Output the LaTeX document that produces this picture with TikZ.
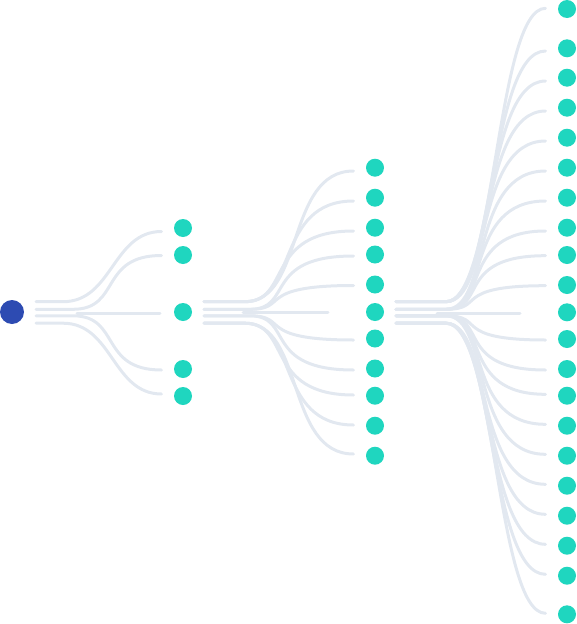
\documentclass[tikz,border=0pt]{standalone}
\usetikzlibrary{calc}
\definecolor{lnkc}{RGB}{226,232,240}
\definecolor{dotc}{RGB}{31,214,191}
\definecolor{rootc}{RGB}{45,75,178}
\tikzset{
  lnk/.style={draw=lnkc, line width=3pt, line cap=round},
  dot/.style={circle, fill=dotc, minimum size=18pt, inner sep=0pt},
  rootdot/.style={circle, fill=rootc, minimum size=24pt, inner sep=0pt}
}
% #1 port, #2 child node, #3 flat length, #4 first control, #5 second control (from bend start), #6 end y offset
\newcommand\lk[6]{\draw[lnk] let \p1=(#1), \p2=(#2) in
  (\p1) -- ({\x1+#3pt},\y1)
  .. controls ({\x1+#3pt+#4pt},\y1) and ({\x1+#3pt+#5pt},{\y2-(#6)*1pt})
  .. ({\x2-21.5pt},{\y2-(#6)*1pt});}
\newcommand\mkports[2]{%
  \coordinate (#1-1) at ($(#1)+(#2,-10.3)$);
  \coordinate (#1-2) at ($(#1)+(#2,-2.7)$);
  \coordinate (#1-3) at ($(#1)+(#2,3.8)$);
  \coordinate (#1-4) at ($(#1)+(#2,11.2)$);}
\begin{document}
\begin{tikzpicture}[x=1pt,y=-1pt]
\useasboundingbox (0,0) rectangle (576,624);
% nodes
\node[rootdot] (r) at (12,312) {};
\foreach \n/\yy in {a/228,b/255,c/312,d/369,e/396}
  \node[dot] (p\n) at (183,\yy) {};
\foreach \n/\yy in {a/167.7,b/197.7,c/227.7,d/254.5,e/284.5,f/312,g/338.5,h/368.5,i/395.7,j/425.7,k/455.7}
  \node[dot] (q\n) at (375,\yy) {};
\foreach \n/\yy in {a/9,b/48.3,c/77.7,d/107.7,e/137.7,f/167.7,g/197.7,h/227.7,i/255,j/285,k/312.3,l/339,m/369,n/395.7,o/425.7,p/455.7,q/485.7,r/515.7,s/545.7,t/575.7,u/614.3}
  \node[dot] (s\n) at (567,\yy) {};
\mkports{r}{24}
\mkports{pc}{21}
\mkports{qf}{21}
% level 1
\lk{r-1}{pa}{27}{49.5}{49.5}{3.5}
\lk{r-2}{pb}{37}{48}{26}{0.5}
\lk{r-3}{pd}{37}{48}{26}{1}
\lk{r-4}{pe}{27}{49.5}{49.5}{-2}
\draw[lnk] ($(r)+(65,1)$) -- ($(pc)+(-23,1)$);
% level 2
\lk{pc-1}{qa}{41}{59.5}{40.5}{3.3}
\lk{pc-1}{qb}{41}{53}{30}{3.3}
\lk{pc-1}{qc}{41}{46.5}{19}{3.3}
\lk{pc-2}{qd}{46}{44}{12}{1.5}
\lk{pc-2}{qe}{46}{40}{4}{1}
\lk{pc-3}{qg}{46}{40}{4}{1.5}
\lk{pc-3}{qh}{46}{44}{12}{1.5}
\lk{pc-4}{qi}{41}{46.5}{19}{-0.7}
\lk{pc-4}{qj}{41}{53}{30}{-0.7}
\lk{pc-4}{qk}{41}{59.5}{40.5}{-1.7}
\draw[lnk] ($(pc)+(60,0.7)$) -- ($(qf)+(-47,0.7)$);
% level 3
\lk{qf-1}{sa}{50}{50}{50}{-0.7}
\lk{qf-1}{sb}{50}{48.5}{42.7}{2.7}
\lk{qf-1}{sc}{50}{47.5}{37.6}{3.3}
\lk{qf-1}{sd}{50}{46.5}{32.5}{3.3}
\lk{qf-1}{se}{50}{45.5}{27.4}{3.3}
\lk{qf-2}{sf}{50}{44.7}{23.5}{3.3}
\lk{qf-2}{sg}{50}{43.7}{18.4}{3.3}
\lk{qf-2}{sh}{50}{42.7}{13.3}{3.3}
\lk{qf-2}{si}{50}{41.8}{9}{0.7}
\lk{qf-2}{sj}{50}{40.8}{4}{0.7}
\lk{qf-3}{sl}{50}{40.8}{4}{1}
\lk{qf-3}{sm}{50}{41.8}{9}{1}
\lk{qf-3}{sn}{50}{42.7}{13.3}{-1.4}
\lk{qf-3}{so}{50}{43.7}{18.4}{-1.4}
\lk{qf-3}{sp}{50}{44.7}{23.5}{-1.4}
\lk{qf-4}{sq}{50}{45.5}{27.4}{-1.4}
\lk{qf-4}{sr}{50}{46.5}{32.5}{-1.4}
\lk{qf-4}{ss}{50}{47.5}{37.6}{-1.4}
\lk{qf-4}{st}{50}{48.5}{42.7}{-1.4}
\lk{qf-4}{su}{50}{50}{50}{-1}
\draw[lnk] ($(qf)+(62,1.3)$) -- ($(sk)+(-47,1)$);
\end{tikzpicture}
\end{document}
